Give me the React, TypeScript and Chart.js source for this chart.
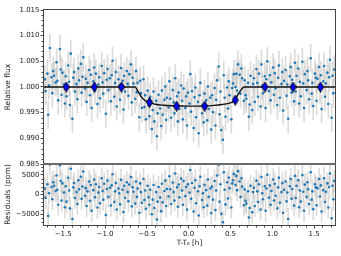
import { useEffect, useRef } from 'react';
import { Chart, registerables } from 'chart.js';

Chart.register(...registerables);

// ---- data ----
const TIME = [
  -1.72, -1.71, -1.69, -1.68, -1.67, -1.66, -1.64, -1.63, -1.62, -1.61, -1.59, -1.58, -1.57, -1.56, -1.54, -1.53, -1.52, -1.51, -1.49, -1.48,
  -1.47, -1.46, -1.44, -1.43, -1.42, -1.41, -1.39, -1.38, -1.37, -1.36, -1.34, -1.33, -1.32, -1.31, -1.29, -1.28, -1.27, -1.26, -1.24, -1.23,
  -1.22, -1.21, -1.19, -1.18, -1.17, -1.16, -1.14, -1.13, -1.12, -1.11, -1.09, -1.08, -1.07, -1.06, -1.04, -1.03, -1.02, -1.01, -0.99, -0.98,
  -0.97, -0.96, -0.94, -0.93, -0.92, -0.91, -0.89, -0.88, -0.87, -0.86, -0.84, -0.83, -0.82, -0.81, -0.79, -0.78, -0.77, -0.76, -0.74, -0.73,
  -0.72, -0.71, -0.69, -0.68, -0.67, -0.66, -0.64, -0.63, -0.62, -0.61, -0.59, -0.58, -0.57, -0.56, -0.54, -0.53, -0.52, -0.51, -0.49, -0.48,
  -0.47, -0.46, -0.44, -0.43, -0.42, -0.41, -0.39, -0.38, -0.37, -0.36, -0.34, -0.33, -0.32, -0.31, -0.29, -0.28, -0.27, -0.26, -0.24, -0.23,
  -0.22, -0.21, -0.19, -0.18, -0.17, -0.16, -0.14, -0.13, -0.12, -0.11, -0.09, -0.08, -0.07, -0.06, -0.04, -0.03, -0.02, -0.01, 0.01, 0.02,
  0.03, 0.04, 0.06, 0.07, 0.08, 0.09, 0.11, 0.12, 0.13, 0.14, 0.16, 0.17, 0.18, 0.19, 0.21, 0.22, 0.23, 0.24, 0.26, 0.27,
  0.28, 0.29, 0.31, 0.32, 0.33, 0.34, 0.36, 0.37, 0.38, 0.39, 0.41, 0.42, 0.43, 0.44, 0.46, 0.47, 0.48, 0.49, 0.51, 0.52,
  0.53, 0.54, 0.56, 0.57, 0.58, 0.59, 0.61, 0.62, 0.63, 0.64, 0.66, 0.67, 0.68, 0.69, 0.71, 0.72, 0.73, 0.74, 0.76, 0.77,
  0.78, 0.79, 0.81, 0.82, 0.83, 0.84, 0.86, 0.87, 0.88, 0.89, 0.91, 0.92, 0.93, 0.94, 0.96, 0.97, 0.98, 0.99, 1.01, 1.02,
  1.03, 1.04, 1.06, 1.07, 1.08, 1.09, 1.11, 1.12, 1.13, 1.14, 1.16, 1.17, 1.18, 1.19, 1.21, 1.22, 1.23, 1.24, 1.26, 1.27,
  1.28, 1.29, 1.31, 1.32, 1.33, 1.34, 1.36, 1.37, 1.38, 1.39, 1.41, 1.42, 1.43, 1.44, 1.46, 1.47, 1.48, 1.49, 1.51, 1.52,
  1.53, 1.54, 1.56, 1.57, 1.58, 1.59, 1.61, 1.62, 1.63, 1.64, 1.66, 1.67, 1.68, 1.69, 1.71, 1.72, 1.73, 1.74,
];

const FLUX = [
  1.0015, 0.9992, 1.0026, 0.9946, 1.0003, 1.0076, 1.0019, 0.9988, 1.0031, 1.0022, 1.0009, 1.0048, 1.0012, 0.9974, 1.0074, 1.0034, 0.9985, 1.0028, 1.0005, 0.9968,
  1.0021, 0.9982, 1.0042, 1.0010, 0.9965, 1.0065, 0.9938, 1.0018, 1.0029, 0.9991, 1.0006, 0.9976, 1.0036, 1.0013, 1.0045, 0.9989, 1.0020, 1.0058, 0.9997, 1.0016,
  0.9971, 1.0008, 1.0033, 0.9984, 1.0024, 0.9959, 1.0011, 1.0038, 0.9993, 1.0026, 0.9967, 1.0005, 1.0019, 0.9978, 1.0041, 1.0009, 0.9987, 1.0027, 0.9948, 1.0014,
  1.0035, 0.9994, 1.0017, 0.9972, 1.0023, 1.0051, 0.9981, 1.0008, 1.0029, 0.9962, 1.0015, 1.0003, 0.9975, 1.0037, 1.0012, 0.9956, 1.0022, 0.9991, 1.0031, 1.0006,
  0.9983, 1.0025, 1.0044, 0.9970, 1.0018, 1.0007, 0.9977, 1.0031, 0.9990, 1.0008, 0.9941, 1.0012, 0.9988, 0.9959, 1.0015, 0.9961, 0.9984, 0.9937, 0.9993, 0.9964,
  0.9943, 0.9981, 0.9918, 0.9955, 0.9991, 0.9933, 0.9973, 0.9904, 0.9949, 0.9985, 0.9958, 0.9924, 0.9993, 0.9946, 0.9975, 1.0001, 0.9936, 0.9979, 0.9960, 1.0011,
  0.9977, 0.9940, 0.9994, 0.9970, 0.9949, 1.0017, 0.9982, 0.9933, 0.9989, 0.9957, 1.0003, 0.9973, 0.9937, 0.9997, 0.9959, 0.9982, 0.9925, 0.9989, 0.9968, 1.0025,
  0.9952, 0.9992, 0.9920, 0.9980, 0.9999, 0.9941, 0.9971, 0.9910, 0.9984, 1.0008, 0.9949, 0.9966, 0.9931, 0.9987, 0.9974, 0.9935, 1.0001, 0.9957, 0.9979, 0.9917,
  0.9984, 0.9951, 0.9998, 0.9925, 0.9975, 1.0013, 1.0040, 0.9947, 0.9991, 0.9916, 0.9897, 1.0023, 0.9979, 0.9942, 0.9999, 0.9958, 1.0011, 0.9984, 0.9937, 0.9998,
  1.0007, 1.0025, 1.0000, 1.0026, 0.9993, 1.0044, 1.0024, 0.9987, 1.0036, 1.0017, 0.9973, 1.0013, 0.9984, 0.9977, 1.0008, 0.9942, 0.9966, 1.0022, 0.9955, 1.0006,
  1.0017, 0.9971, 1.0035, 1.0008, 0.9981, 1.0026, 0.9962, 1.0044, 1.0003, 0.9988, 1.0021, 0.9959, 1.0015, 1.0050, 0.9992, 1.0023, 0.9974, 1.0009, 1.0038, 0.9985,
  1.0027, 0.9997, 0.9965, 1.0018, 1.0042, 0.9979, 1.0006, 1.0029, 0.9954, 1.0012, 1.0033, 0.9983, 1.0005, 0.9938, 1.0021, 1.0039, 0.9989, 1.0014, 0.9972, 1.0047,
  0.9991, 1.0022, 1.0036, 0.9968, 1.0010, 0.9982, 1.0049, 1.0007, 0.9959, 1.0025, 0.9994, 1.0031, 1.0013, 0.9976, 1.0056, 0.9987, 1.0008, 0.9963, 1.0026, 1.0018,
  0.9973, 1.0016, 1.0039, 0.9995, 1.0023, 0.9957, 1.0011, 1.0041, 0.9981, 1.0007, 1.0028, 0.9967, 1.0019, 1.0053, 0.9940, 1.0022, 0.9988, 1.0034,
];

const RESID = [
  1500, -800, 2600, -5400, 300, 7600, 1900, -1200, 3100, 2200, 900, 4800, 1200, -2600, 7400, 3400, -1500, 2800, 500, -3200,
  2100, -1800, 4200, 1000, -3500, 6500, -6200, 1800, 2900, -900, 600, -2400, 3600, 1300, 4500, -1100, 2000, 5800, -300, 1600,
  -2900, 800, 3300, -1600, 2400, -4100, 1100, 3800, -700, 2600, -3300, 500, 1900, -2200, 4100, 900, -1300, 2700, -5200, 1400,
  3500, -600, 1700, -2800, 2300, 5100, -1900, 800, 2900, -3800, 1500, 300, -2500, 3700, 1200, -4400, 2200, -900, 3100, 600,
  -1700, 2500, 4400, -3000, 1800, 700, -2300, 3300, -600, 1500, -4600, 2800, 600, -2100, 3900, -1400, 1000, -3600, 2200, -700,
  -2600, 1200, -5000, -1300, 2400, -3400, 600, -6300, -1800, 1900, -800, -4200, 2700, -2000, 900, 3500, -2900, 1400, -500, 4600,
  1300, -2400, 3000, 600, -1500, 5300, 1800, -3100, 2500, -700, 4000, 1000, -2600, 3400, -400, 1900, -3800, 2600, 500, 6200,
  -1100, 2900, -4300, 1700, 3600, -2200, 800, -5300, 2100, 4500, -1400, 300, -3200, 2400, 1100, -2800, 3800, -600, 1500, -4700,
  2000, -1300, 3400, -3900, 1000, 4800, 7500, -1800, 2600, -4900, -7000, 5600, 1200, -2500, 3100, -1000, 4300, 1600, -3300, 2800,
  3600, 5200, 2400, 4700, 1100, 5900, 3300, -600, 4100, 2000, -2700, 1300, -1600, -2300, 800, -5800, -3400, 2200, -4500, 600,
  1700, -2900, 3500, 800, -1900, 2600, -3800, 4400, 300, -1200, 2100, -4100, 1500, 5000, -800, 2300, -2600, 900, 3800, -1500,
  2700, -300, -3500, 1800, 4200, -2100, 600, 2900, -4600, 1200, 3300, -1700, 500, -6200, 2100, 3900, -1100, 1400, -2800, 4700,
  -900, 2200, 3600, -3200, 1000, -1800, 4900, 700, -4100, 2500, -600, 3100, 1300, -2400, 5600, -1300, 800, -3700, 2600, 1800,
  -2700, 1600, 3900, -500, 2300, -4300, 1100, 4100, -1900, 700, 2800, -3300, 1900, 5300, -6000, 2200, -1200, 3400,
];

const FLUX_ERR = 0.0027;
const RESID_ERR = 2700;

const MODEL_T = [-1.73, -0.64, -0.62, -0.6, -0.58, -0.56, -0.54, -0.52, -0.5, -0.48, -0.45, -0.4, -0.3, -0.2, -0.1, 0.0, 0.1, 0.2, 0.3, 0.4, 0.45, 0.5, 0.53, 0.556, 0.58, 0.6, 0.62, 0.64, 0.66, 1.75];
const MODEL_F = [1.0, 1.0, 0.99955, 0.999, 0.9984, 0.99795, 0.9976, 0.99735, 0.9972, 0.99708, 0.9969, 0.99665, 0.99645, 0.99635, 0.9963, 0.99628, 0.99628, 0.9963, 0.99642, 0.9966, 0.99672, 0.99692, 0.9971, 0.99746, 0.9982, 0.9988, 0.9993, 0.9997, 1.0, 1.0];

const BIN_T = [-1.464, -1.128, -0.804, -0.468, -0.144, 0.192, 0.556, 0.912, 1.248, 1.576];
const BIN_F = [1.0, 1.0, 1.0, 0.997, 0.99627, 0.99627, 0.99745, 1.0, 1.0, 1.0];

const X_TICKS = [-1.5, -1.0, -0.5, 0.0, 0.5, 1.0, 1.5];
const X_MINOR = [-1.7, -1.6, -1.4, -1.3, -1.2, -1.1, -0.9, -0.8, -0.7, -0.6, -0.4, -0.3, -0.2, -0.1, 0.1, 0.2, 0.3, 0.4, 0.6, 0.7, 0.8, 0.9, 1.1, 1.2, 1.3, 1.4, 1.6, 1.7];
const FLUX_TICKS = [0.985, 0.99, 0.995, 1.0, 1.005, 1.01, 1.015];
const FLUX_MINOR = [0.986, 0.987, 0.988, 0.989, 0.991, 0.992, 0.993, 0.994, 0.996, 0.997, 0.998, 0.999, 1.001, 1.002, 1.003, 1.004, 1.006, 1.007, 1.008, 1.009, 1.011, 1.012, 1.013, 1.014];
const RESID_TICKS = [-5000, 0, 5000];
const RESID_MINOR = [-7000, -6000, -4000, -3000, -2000, -1000, 1000, 2000, 3000, 4000, 6000, 7000];

const X_MIN = -1.73;
const X_MAX = 1.75;
const FLUX_MIN = 0.985;
const FLUX_MAX = 1.015;
const RESID_MIN = -7700;
const RESID_MAX = 7700;

const FONT = 'DejaVu Sans';
const TEXT = '#1a1a1a';
const AXIS = '#444';

const minus = (s: string) => s.replace('-', '\u2212');

function makeDiamond() {
  const c = document.createElement('canvas');
  c.width = 7;
  c.height = 11;
  const g = c.getContext('2d')!;
  g.beginPath();
  g.moveTo(3.5, 0.5);
  g.lineTo(6.5, 5.5);
  g.lineTo(3.5, 10.5);
  g.lineTo(0.5, 5.5);
  g.closePath();
  g.fillStyle = '#0000ff';
  g.fill();
  g.strokeStyle = '#000';
  g.lineWidth = 1;
  g.stroke();
  return c;
}

const framePlugin = {
  id: 'frame',
  afterDraw(chart: any) {
    const { ctx, chartArea, scales } = chart;
    const x = scales.x;
    const yF = scales.yFlux;
    const yR = scales.yRes;
    ctx.save();
    ctx.strokeStyle = AXIS;
    ctx.lineWidth = 1;
    const L = Math.round(chartArea.left) - 0.5;
    const R = Math.round(chartArea.right) + 0.5;
    const T = Math.round(yF.top) - 0.5;
    const B = Math.round(yR.bottom) + 0.5;
    ctx.strokeRect(L, T, R - L, B - T);
    // separator between panels
    ctx.fillStyle = '#6a6a6a';
    ctx.fillRect(L - 0.5, Math.round(yR.top) - 1, R - L + 1, 2);
    ctx.beginPath();
    // minor ticks
    for (const v of FLUX_MINOR) {
      const py = Math.round(yF.getPixelForValue(v)) + 0.5;
      ctx.moveTo(L, py);
      ctx.lineTo(L - 2, py);
    }
    for (const v of RESID_MINOR) {
      const py = Math.round(yR.getPixelForValue(v)) + 0.5;
      ctx.moveTo(L, py);
      ctx.lineTo(L - 2, py);
    }
    for (const v of X_MINOR) {
      const px = Math.round(x.getPixelForValue(v)) + 0.5;
      ctx.moveTo(px, B);
      ctx.lineTo(px, B + 2);
    }
    ctx.stroke();
    ctx.restore();
  },
};

const tickGrid = {
  display: true,
  drawOnChartArea: false,
  drawTicks: true,
  tickLength: 3.5,
  tickColor: AXIS,
  tickWidth: 1,
  offset: false,
};

export default function App() {
  const ref = useRef<HTMLCanvasElement>(null);

  useEffect(() => {
    const diamond = makeDiamond();
    const chart = new Chart(ref.current!, {
      type: 'scatter',
      data: {
        datasets: [
          {
            type: 'bar',
            data: TIME.map((t, i) => ({ x: t, y: [FLUX[i] - FLUX_ERR, FLUX[i] + FLUX_ERR] })),
            yAxisID: 'yFlux',
            backgroundColor: 'rgba(190,190,190,0.55)',
            borderWidth: 0,
            barThickness: 1,
            grouped: false,
            order: 5,
          } as any,
          {
            type: 'bar',
            data: TIME.map((t, i) => ({ x: t, y: [RESID[i] - RESID_ERR, RESID[i] + RESID_ERR] })),
            yAxisID: 'yRes',
            backgroundColor: 'rgba(190,190,190,0.55)',
            borderWidth: 0,
            barThickness: 1,
            grouped: false,
            order: 5,
          } as any,
          {
            type: 'scatter',
            data: TIME.map((t, i) => ({ x: t, y: FLUX[i] })),
            yAxisID: 'yFlux',
            pointRadius: 1.3,
            backgroundColor: '#1f77b4',
            borderWidth: 0,
            order: 3,
          },
          {
            type: 'scatter',
            data: TIME.map((t, i) => ({ x: t, y: RESID[i] })),
            yAxisID: 'yRes',
            pointRadius: 1.3,
            backgroundColor: '#1f77b4',
            borderWidth: 0,
            order: 3,
          },
          {
            type: 'line',
            data: MODEL_T.map((t, i) => ({ x: t, y: MODEL_F[i] })),
            yAxisID: 'yFlux',
            borderColor: '#111',
            borderWidth: 1.4,
            pointRadius: 0,
            fill: false,
            cubicInterpolationMode: 'monotone',
            order: 2,
          } as any,
          {
            type: 'scatter',
            data: BIN_T.map((t, i) => ({ x: t, y: BIN_F[i] })),
            yAxisID: 'yFlux',
            pointStyle: diamond,
            pointRadius: 5,
            order: 1,
          } as any,
        ],
      },
      options: {
        responsive: false,
        animation: false,
        events: [],
        layout: { padding: { top: 10, right: 6, left: 0, bottom: 0 } },
        font: { family: FONT },
        plugins: { legend: { display: false }, tooltip: { enabled: false } },
        scales: {
          x: {
            type: 'linear',
            min: X_MIN,
            max: X_MAX,
            offset: false,
            grid: tickGrid,
            border: { display: false },
            afterBuildTicks: (s: any) => {
              s.ticks = X_TICKS.map((v) => ({ value: v }));
            },
            afterFit: (s: any) => {
              s.height = 31;
            },
            ticks: {
              autoSkip: false,
              maxRotation: 0,
              padding: 1,
              color: TEXT,
              font: { family: FONT, size: 7 },
              callback: (v: any) => minus(Number(v).toFixed(1)),
            },
            title: {
              display: true,
              text: 'T-T\u2080 [h]',
              color: TEXT,
              font: { family: FONT, size: 7.2 },
              padding: { top: 0, bottom: 9 },
            },
          },
          yRes: {
            type: 'linear',
            position: 'left',
            stack: 'panels',
            stackWeight: 61,
            min: RESID_MIN,
            max: RESID_MAX,
            beginAtZero: false,
            grid: tickGrid,
            border: { display: false },
            afterBuildTicks: (s: any) => {
              s.ticks = RESID_TICKS.map((v) => ({ value: v }));
            },
            afterFit: (s: any) => {
              s.width = 44;
            },
            ticks: {
              padding: 1,
              color: TEXT,
              font: { family: FONT, size: 7 },
              callback: (v: any) => minus(String(Number(v))),
            },
            title: {
              display: true,
              text: 'Residuals (ppm)',
              color: TEXT,
              font: { family: FONT, size: 7.5 },
              padding: { top: 4, bottom: 0 },
            },
          },
          yFlux: {
            type: 'linear',
            position: 'left',
            stack: 'panels',
            stackWeight: 154,
            min: FLUX_MIN,
            max: FLUX_MAX,
            beginAtZero: false,
            grid: tickGrid,
            border: { display: false },
            afterBuildTicks: (s: any) => {
              s.ticks = FLUX_TICKS.map((v) => ({ value: v }));
            },
            afterFit: (s: any) => {
              s.width = 44;
            },
            ticks: {
              padding: 1,
              color: TEXT,
              font: { family: FONT, size: 7 },
              callback: (v: any) => Number(v).toFixed(3),
            },
            title: {
              display: true,
              text: 'Relative flux',
              color: TEXT,
              font: { family: FONT, size: 7.5 },
              padding: { top: 4, bottom: 0 },
            },
          },
        } as any,
      },
      plugins: [framePlugin],
    } as any);
    return () => chart.destroy();
  }, []);

  return (
    <div style={{ position: 'absolute', left: 0, top: 0, width: 341, height: 256, background: '#fff' }}>
      <canvas ref={ref} width={341} height={256} style={{ display: 'block' }} />
    </div>
  );
}
